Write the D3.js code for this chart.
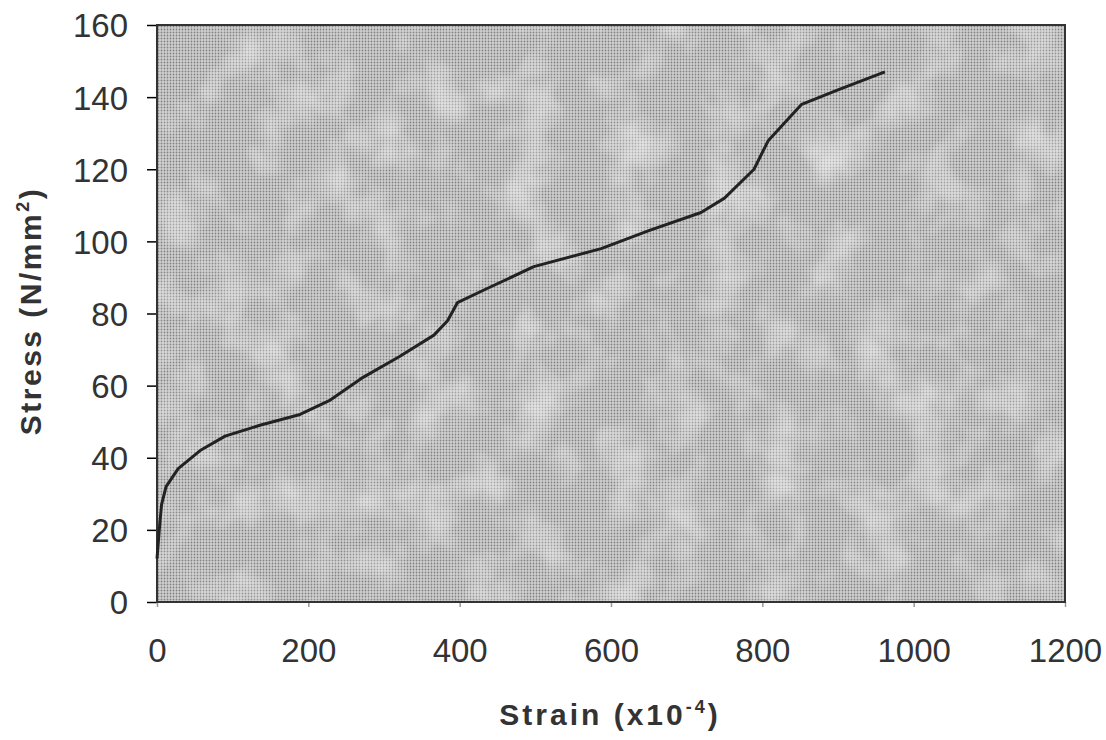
<!DOCTYPE html>
<html lang="en">
<head>
  <meta charset="UTF-8">
  <title>Stress vs Strain</title>
  <script src="https://d3js.org/d3.v7.min.js"></script>
  <style>
    body { margin: 0; background: #fff; }
    text { font-family: "Liberation Sans", Arial, sans-serif; }
  </style>
</head>
<body>
  <div id="chart"></div>

  <script>
    // strain (x10^-4) and stress (N/mm^2)
    const strain = [0, 3, 6, 12, 28, 57, 90, 136, 189, 229, 270, 320, 366, 384, 397, 437, 498, 587, 650, 719, 750, 789, 808, 852, 900, 962];
    const stress = [12, 20, 27, 32, 37, 42, 46, 49, 52, 56, 62, 68, 74, 78, 83, 87, 93, 98, 103, 108, 112, 120, 128, 138, 142, 147];
    const xTicks = [0, 200, 400, 600, 800, 1000, 1200];
    const yTicks = [0, 20, 40, 60, 80, 100, 120, 140, 160];

    const W = 1106, H = 740;
    const margin = { top: 25, right: 41, bottom: 138, left: 157 };
    const width = W - margin.left - margin.right;
    const height = H - margin.top - margin.bottom;

    const svg = d3.select("#chart").append("svg")
      .attr("width", W)
      .attr("height", H);

    // halftone-ish texture for the plot area
    const defs = svg.append("defs");
    const pat = defs.append("pattern")
      .attr("id", "dots")
      .attr("width", 3).attr("height", 3)
      .attr("patternUnits", "userSpaceOnUse");
    pat.append("rect").attr("width", 3).attr("height", 3).attr("fill", "#d0d0d0");
    pat.append("circle").attr("cx", 1.5).attr("cy", 1.5).attr("r", 0.9).attr("fill", "#808080");

    // soft light patches, like the scanned print
    const mottle = defs.append("filter").attr("id", "mottle")
      .attr("x", 0).attr("y", 0).attr("width", 1).attr("height", 1);
    mottle.append("feTurbulence")
      .attr("type", "fractalNoise").attr("baseFrequency", 0.02).attr("numOctaves", 3).attr("seed", 4);
    mottle.append("feColorMatrix")
      .attr("type", "matrix")
      .attr("values", "0 0 0 0 1  0 0 0 0 1  0 0 0 0 1  0 0 0 1.0 -0.45");
    mottle.append("feComposite").attr("in2", "SourceGraphic").attr("operator", "in");

    const g = svg.append("g")
      .attr("transform", "translate(" + margin.left + "," + margin.top + ")");

    const x = d3.scaleLinear().domain([0, 1200]).range([0, width]);
    const y = d3.scaleLinear().domain([0, 160]).range([height, 0]);

    g.append("rect")
      .attr("width", width)
      .attr("height", height)
      .attr("fill", "url(#dots)");
    g.append("rect")
      .attr("width", width)
      .attr("height", height)
      .attr("fill", "#fff")
      .attr("filter", "url(#mottle)");

    // y axis
    const yAxis = g.append("g")
      .call(d3.axisLeft(y).tickValues(yTicks).tickSize(10).tickPadding(19).tickFormat(d3.format("d")));
    yAxis.selectAll("text")
      .style("font-size", "33px")
      .attr("dy", "0.36em")
      .attr("fill", "#333");

    // x axis
    const xAxis = g.append("g")
      .attr("transform", "translate(0," + height + ")")
      .call(d3.axisBottom(x).tickValues(xTicks).tickSize(5).tickPadding(32).tickFormat(d3.format("d")));
    xAxis.selectAll("text")
      .style("font-size", "33px")
      .attr("fill", "#333");
    xAxis.selectAll("line").attr("stroke", "#999");

    [xAxis, yAxis].forEach(a => {
      a.select(".domain").remove();
      a.selectAll("line").attr("stroke-width", 1.5);
    });

    // frame
    g.append("rect")
      .attr("width", width)
      .attr("height", height)
      .attr("fill", "none")
      .attr("stroke", "#333")
      .attr("stroke-width", 2);

    // curve
    const pts = strain.map((s, i) => [s, stress[i]]);
    g.append("path")
      .datum(pts)
      .attr("fill", "none")
      .attr("stroke", "#222")
      .attr("stroke-width", 3)
      .attr("stroke-linejoin", "round")
      .attr("d", d3.line().x(d => x(d[0])).y(d => y(d[1])));

    // x-axis label
    const xl = svg.append("text")
      .attr("x", 610)
      .attr("y", 725)
      .attr("text-anchor", "middle")
      .style("font-size", "30px")
      .style("font-weight", "bold")
      .style("letter-spacing", "3px")
      .attr("fill", "#333");
    xl.append("tspan").text("Strain (x10");
    xl.append("tspan").attr("dy", -12).style("font-size", "18px").text("-4");
    xl.append("tspan").attr("dy", 12).text(")");

    // y-axis label
    const yl = svg.append("text")
      .attr("transform", "translate(41,311) rotate(-90)")
      .attr("text-anchor", "middle")
      .style("font-size", "30px")
      .style("font-weight", "bold")
      .style("letter-spacing", "2.5px")
      .attr("fill", "#333");
    yl.append("tspan").text("Stress (N/mm");
    yl.append("tspan").attr("dy", -12).style("font-size", "18px").text("2");
    yl.append("tspan").attr("dy", 12).text(")");
  </script>
</body>
</html>
